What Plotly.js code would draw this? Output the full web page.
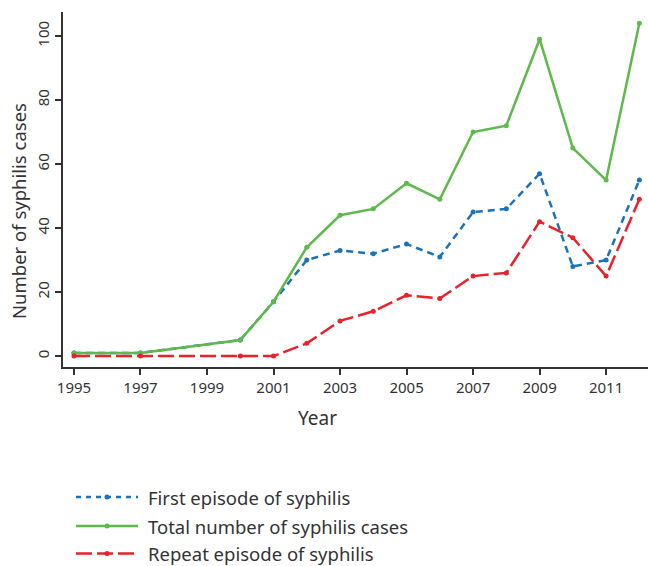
<!DOCTYPE html>
<html><head><meta charset="utf-8">
<script src="https://cdn.plot.ly/plotly-3.0.1.min.js"></script>
<style>body{margin:0;padding:0;background:#fff}#chart{width:648px;height:566px}</style>
</head><body><div id="chart"></div>
<script>
const years = [1995, 1997, 2000, 2001, 2002, 2003, 2004, 2005, 2006, 2007, 2008, 2009, 2010, 2011, 2012];
const firstEpisode = [1, 1, 5, 17, 30, 33, 32, 35, 31, 45, 46, 57, 28, 30, 55];
const totalCases = [1, 1, 5, 17, 34, 44, 46, 54, 49, 70, 72, 99, 65, 55, 104];
const repeatEpisode = [0, 0, 0, 0, 4, 11, 14, 19, 18, 25, 26, 42, 37, 25, 49];
const seriesNames = ['First episode of syphilis', 'Total number of syphilis cases', 'Repeat episode of syphilis'];
const xTicks = [1995, 1997, 1999, 2001, 2003, 2005, 2007, 2009, 2011];
const yTicks = [0, 20, 40, 60, 80, 100];

const fontFam = '"Noto Sans", "Open Sans", sans-serif';
const textCol = '#333';
const colors = ['#1a72b8', '#5db94b', '#e8212b'];
const dashes = ['7px,5px', 'solid', '16px,5px'];
const seriesValues = [firstEpisode, totalCases, repeatEpisode];

const traces = seriesValues.map((vals, i) => ({
  x: years, y: vals, name: seriesNames[i], mode: 'lines+markers',
  line: {color: colors[i], width: 2.5, dash: dashes[i]},
  marker: {size: 5, color: colors[i]}, showlegend: false
}));

// plot area geometry (pixels) for placing the custom legend
const W = 648, H = 566, mL = 63, mR = 0, mT = 12, mB = 199;
const pw = W - mL - mR, ph = H - mT - mB;
const px = v => (v - mL) / pw;
const py = v => (H - mB - v) / ph;

const shapes = [];
const annotations = [];
const rowY = [497, 526, 553.5];
const legendDashes = ['5px,5px', 'solid', '16px,5px'];
seriesNames.forEach((name, i) => {
  shapes.push({type: 'line', xref: 'paper', yref: 'paper', x0: px(76), x1: px(138), y0: py(rowY[i]), y1: py(rowY[i]),
               line: {color: colors[i], width: 2.5, dash: legendDashes[i]}});
  shapes.push({type: 'circle', xref: 'paper', yref: 'paper', x0: px(104.5), x1: px(109.5), y0: py(rowY[i] - 2.5), y1: py(rowY[i] + 2.5),
               fillcolor: colors[i], line: {width: 0}});
  annotations.push({xref: 'paper', yref: 'paper', x: px(146), y: py(rowY[i]), xanchor: 'left', yanchor: 'middle',
                    text: name, showarrow: false, font: {size: 18.5, color: textCol, family: fontFam}});
});
annotations.push({xref: 'paper', yref: 'paper', x: px(317), y: py(418), xanchor: 'center', yanchor: 'middle',
                  text: 'Year', showarrow: false, font: {size: 19, color: textCol, family: fontFam}});
annotations.push({xref: 'paper', yref: 'paper', x: px(19), y: py(211), xanchor: 'center', yanchor: 'middle',
                  text: 'Number of syphilis cases', textangle: -90, showarrow: false,
                  font: {size: 18.5, color: textCol, family: fontFam}});

const layout = {
  width: W, height: H,
  margin: {l: mL, r: mR, t: mT, b: mB},
  paper_bgcolor: '#fff', plot_bgcolor: '#fff',
  font: {family: fontFam, color: textCol},
  showlegend: false,
  xaxis: {range: [1994.67, 2012.26], tickvals: xTicks, ticktext: xTicks.map(String),
          showgrid: false, zeroline: false, showline: true, linecolor: '#333', linewidth: 1.5,
          ticks: 'outside', ticklen: 6, tickcolor: '#333', tickwidth: 1.5,
          tickfont: {size: 15, color: textCol}, automargin: false},
  yaxis: {range: [-3.4, 107.5], tickvals: yTicks, ticktext: yTicks.map(String),
          showgrid: false, zeroline: false, showline: true, linecolor: '#333', linewidth: 1.5,
          ticks: 'outside', ticklen: 6, tickcolor: '#333', tickwidth: 1.5, tickangle: -90,
          tickfont: {size: 15, color: textCol}, automargin: false},
  shapes: shapes,
  annotations: annotations
};
Plotly.newPlot('chart', traces, layout, {displayModeBar: false});
</script></body></html>
